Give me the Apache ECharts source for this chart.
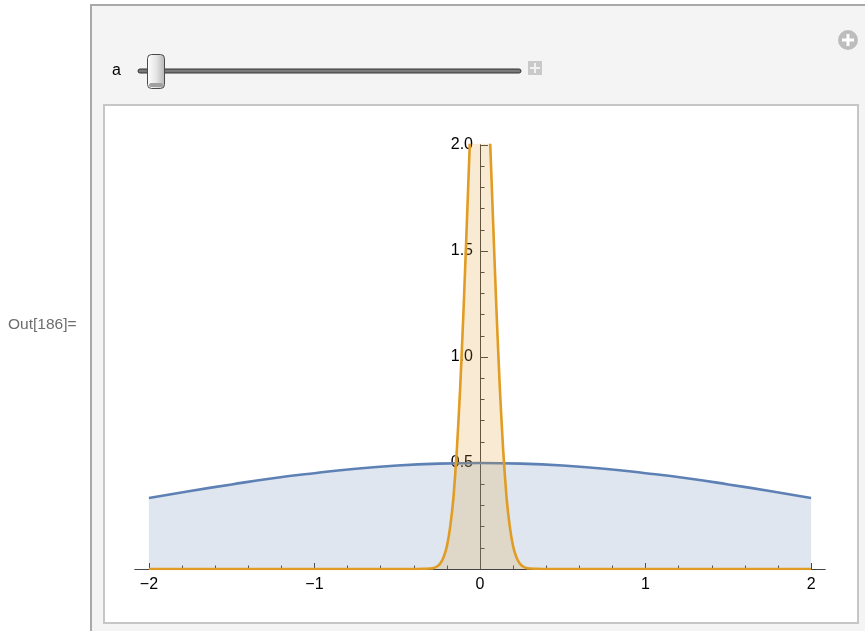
<!DOCTYPE html>
<html>
<head>
<meta charset="utf-8">
<script src="https://cdn.jsdelivr.net/npm/echarts@6/dist/echarts.min.js"></script>
<style>
  html, body { margin: 0; padding: 0; background: #ffffff; }
  #chart { width: 865px; height: 631px; }
</style>
</head>
<body>
<div id="chart"></div>
<script>
// ---- data ----
const blueX = [-2, -1.75, -1.5, -1.25, -1, -0.75, -0.5, -0.25, 0, 0.25, 0.5, 0.75, 1, 1.25, 1.5, 1.75, 2];
const blueY = [0.335, 0.368, 0.399, 0.428, 0.452, 0.473, 0.488, 0.497, 0.5, 0.497, 0.488, 0.473, 0.452, 0.428, 0.399, 0.368, 0.335];

const orangeX = [-2, -0.4, -0.34, -0.3, -0.28, -0.26, -0.24, -0.22, -0.2, -0.18, -0.16, -0.14, -0.12, -0.1, -0.08, -0.06, -0.04, -0.02, 0,
                 0.02, 0.04, 0.06, 0.08, 0.1, 0.12, 0.14, 0.16, 0.18, 0.2, 0.22, 0.24, 0.26, 0.28, 0.3, 0.34, 0.4, 2];
const orangeY = [0, 0, 0.001, 0.002, 0.005, 0.012, 0.026, 0.055, 0.107, 0.2, 0.34, 0.56, 0.85, 1.21, 1.62, 2.04, 2.4, 2.62, 2.7,
                 2.62, 2.4, 2.04, 1.62, 1.21, 0.85, 0.56, 0.34, 0.2, 0.107, 0.055, 0.026, 0.012, 0.005, 0.002, 0.001, 0, 0];

const xMajorTicks = [-2, -1, 0, 1, 2];
const xMinorTicks = [-1.8, -1.6, -1.4, -1.2, -0.8, -0.6, -0.4, -0.2, 0.2, 0.4, 0.6, 0.8, 1.2, 1.4, 1.6, 1.8];
const yMajorTicks = [0.5, 1.0, 1.5, 2.0];
const yMinorTicks = [0.1, 0.2, 0.3, 0.4, 0.6, 0.7, 0.8, 0.9, 1.1, 1.2, 1.3, 1.4, 1.6, 1.7, 1.8, 1.9];

const outLabel = 'Out[186]=';
const sliderLabel = 'a';

// ---- chart ----
const chart = echarts.init(document.getElementById('chart'), null, { renderer: 'canvas' });

const blueColor = '#5E81B5';
const orangeColor = '#E19C24';
const axisColor = '#444444';
const font = '"Liberation Sans", Arial, sans-serif';

function fmtX(v) {
  return v < 0 ? '\u2212' + Math.abs(v) : String(v);
}

const gridLeft = 135, gridWidth = 690;
const xMin = -2.084, xMax = 2.084;
// put the y axis at x = 0 (inside the grid)
const yAxisOffset = -gridWidth * (0 - xMin) / (xMax - xMin);

const xBase = {
  type: 'value', min: xMin, max: xMax, position: 'bottom',
  splitLine: { show: false },
  axisLine: { onZero: false, lineStyle: { color: axisColor, width: 1 } }
};
const yBase = {
  type: 'value', min: 0, max: 2, position: 'left', offset: yAxisOffset,
  splitLine: { show: false },
  axisLine: { onZero: false, lineStyle: { color: axisColor, width: 1 } }
};

const option = {
  animation: false,
  backgroundColor: '#ffffff',
  grid: { left: gridLeft, width: gridWidth, top: 145, bottom: 62, containLabel: false },
  xAxis: [
    Object.assign({}, xBase, {
      axisTick: { show: true, inside: true, length: 6, customValues: xMajorTicks, lineStyle: { color: axisColor } },
      axisLabel: { show: true, customValues: xMajorTicks, formatter: fmtX, margin: 8,
                   fontSize: 16, color: '#000', fontFamily: font }
    }),
    Object.assign({}, xBase, {
      axisTick: { show: true, inside: true, length: 3.5, customValues: xMinorTicks, lineStyle: { color: axisColor } },
      axisLabel: { show: false }
    })
  ],
  yAxis: [
    Object.assign({}, yBase, {
      axisTick: { show: true, inside: true, length: 8, customValues: yMajorTicks, lineStyle: { color: axisColor } },
      axisLabel: { show: true, customValues: yMajorTicks, formatter: v => v.toFixed(1), margin: 7,
                   fontSize: 16, color: '#000', fontFamily: font }
    }),
    Object.assign({}, yBase, {
      axisTick: { show: true, inside: true, length: 4.5, customValues: yMinorTicks, lineStyle: { color: axisColor } },
      axisLabel: { show: false }
    })
  ],
  series: [
    {
      type: 'line', xAxisIndex: 0, yAxisIndex: 0,
      data: blueX.map((x, i) => [x, blueY[i]]),
      smooth: true, showSymbol: false, symbol: 'none',
      lineStyle: { color: blueColor, width: 2.6 },
      areaStyle: { color: blueColor, opacity: 0.2 },
      z: 3
    },
    {
      type: 'line', xAxisIndex: 0, yAxisIndex: 0,
      data: orangeX.map((x, i) => [x, orangeY[i]]),
      smooth: 0.2, showSymbol: false, symbol: 'none',
      lineStyle: { color: orangeColor, width: 2.6 },
      areaStyle: { color: orangeColor, opacity: 0.2 },
      z: 4
    }
  ],
  graphic: [
    // outer panel
    { type: 'rect', z: -10, silent: true,
      shape: { x: 91, y: 5, width: 790, height: 650 },
      style: { fill: '#f4f4f4', stroke: '#a9a9a9', lineWidth: 2 } },
    // inner white frame
    { type: 'rect', z: -9, silent: true,
      shape: { x: 104, y: 105, width: 754, height: 518 },
      style: { fill: '#ffffff', stroke: '#c6c6c6', lineWidth: 2 } },
    // Out label
    { type: 'text', z: 10, silent: true, x: 8, y: 325,
      style: { text: outLabel, fill: '#6e6e6e', font: '15.5px ' + font, verticalAlign: 'middle', align: 'left' } },
    // slider label
    { type: 'text', z: 10, silent: true, x: 112, y: 71,
      style: { text: sliderLabel, fill: '#000', font: '16px ' + font, verticalAlign: 'middle', align: 'left' } },
    // slider track
    { type: 'rect', z: 10, silent: true,
      shape: { x: 138, y: 69, width: 383, height: 4, r: 2 },
      style: { fill: '#7a7a7a', stroke: '#333', lineWidth: 1 } },
    // slider thumb
    { type: 'rect', z: 11, silent: true,
      shape: { x: 147.5, y: 54.5, width: 17, height: 34, r: 4 },
      style: {
        fill: new echarts.graphic.LinearGradient(0, 0, 1, 0, [
          { offset: 0, color: '#ffffff' }, { offset: 0.5, color: '#e6e6e6' }, { offset: 1, color: '#b5b5b5' }
        ]),
        stroke: '#4a4a4a', lineWidth: 1
      } },
    { type: 'rect', z: 12, silent: true,
      shape: { x: 149, y: 83, width: 14, height: 4, r: 2 },
      style: { fill: '#a0a0a0' } },
    // small plus square
    { type: 'rect', z: 10, silent: true,
      shape: { x: 528, y: 61, width: 14, height: 14 },
      style: { fill: '#c9c9c9' } },
    { type: 'rect', z: 11, silent: true, shape: { x: 534, y: 63, width: 2, height: 10 }, style: { fill: '#f2f2f2' } },
    { type: 'rect', z: 11, silent: true, shape: { x: 530, y: 67, width: 10, height: 2 }, style: { fill: '#f2f2f2' } },
    // circle plus icon
    { type: 'circle', z: 10, silent: true,
      shape: { cx: 848, cy: 40, r: 10 },
      style: { fill: '#bdbdbd' } },
    { type: 'rect', z: 11, silent: true, shape: { x: 846.5, y: 34, width: 3, height: 12 }, style: { fill: '#ffffff' } },
    { type: 'rect', z: 11, silent: true, shape: { x: 842, y: 38.5, width: 12, height: 3 }, style: { fill: '#ffffff' } }
  ]
};

chart.setOption(option);
</script>
</body>
</html>
